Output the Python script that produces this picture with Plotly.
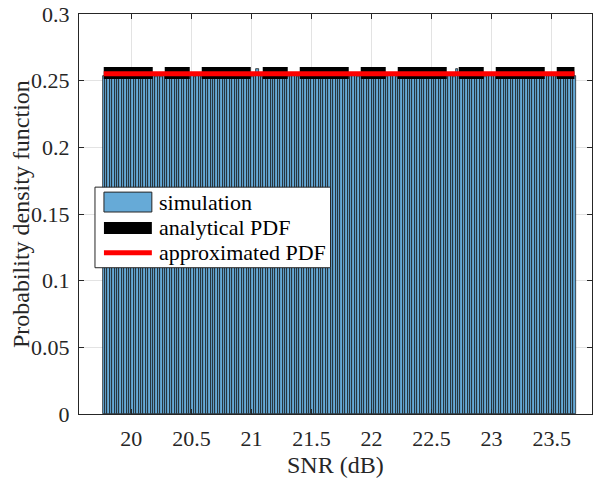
import plotly.graph_objects as go

# Histogram of simulated SNR samples (pdf-normalised), 0.02 dB bins
bin_start = 19.76
bin_width = 0.02
sim_pdf = [
    0.2537, 0.2531, 0.2540, 0.2528, 0.2535, 0.2542, 0.2530, 0.2536, 0.2533, 0.2539,
    0.2529, 0.2538, 0.2534, 0.2541, 0.2532, 0.2527, 0.2536, 0.2539, 0.2530, 0.2535,
    0.2543, 0.2533, 0.2529, 0.2537, 0.2531, 0.2540, 0.2534, 0.2528, 0.2538, 0.2532,
    0.2536, 0.2541, 0.2530, 0.2535, 0.2539, 0.2527, 0.2533, 0.2540, 0.2531, 0.2537,
    0.2534, 0.2529, 0.2542, 0.2536, 0.2530, 0.2538, 0.2533, 0.2528, 0.2539, 0.2535,
    0.2531, 0.2537, 0.2540, 0.2529, 0.2534, 0.2541, 0.2532, 0.2536, 0.2538, 0.2530,
    0.2535, 0.2539, 0.2528, 0.2533, 0.2589, 0.2537, 0.2531, 0.2540, 0.2534, 0.2529,
    0.2538, 0.2532, 0.2536, 0.2541, 0.2530, 0.2535, 0.2539, 0.2527, 0.2533, 0.2537,
    0.2540, 0.2531, 0.2534, 0.2538, 0.2529, 0.2536, 0.2542, 0.2530, 0.2535, 0.2533,
    0.2539, 0.2528, 0.2537, 0.2532, 0.2540, 0.2534, 0.2529, 0.2538, 0.2536, 0.2531,
    0.2535, 0.2541, 0.2530, 0.2537, 0.2533, 0.2539, 0.2528, 0.2534, 0.2540, 0.2532,
    0.2536, 0.2529, 0.2538, 0.2535, 0.2531, 0.2542, 0.2533, 0.2537, 0.2530, 0.2539,
    0.2534, 0.2540, 0.2527, 0.2536, 0.2532, 0.2538, 0.2535, 0.2529, 0.2541, 0.2533,
    0.2537, 0.2531, 0.2539, 0.2534, 0.2528, 0.2536, 0.2540, 0.2530, 0.2535, 0.2538,
    0.2532, 0.2537, 0.2529, 0.2541, 0.2534, 0.2536, 0.2531, 0.2588, 0.2533, 0.2539,
    0.2530, 0.2535, 0.2538, 0.2528, 0.2536, 0.2540, 0.2532, 0.2534, 0.2537, 0.2531,
    0.2539, 0.2533, 0.2536, 0.2542, 0.2529, 0.2535, 0.2538, 0.2530, 0.2534, 0.2540,
    0.2532, 0.2537, 0.2531, 0.2536, 0.2539, 0.2528, 0.2535, 0.2541, 0.2533, 0.2537,
    0.2530, 0.2538, 0.2534, 0.2529, 0.2540, 0.2536, 0.2532, 0.2539, 0.2535, 0.2531,
    0.2537, 0.2533, 0.2540, 0.2528, 0.2536, 0.2534, 0.2538,
]
bin_centers = [bin_start + bin_width * (k + 0.5) for k in range(len(sim_pdf))]

# Analytical and approximated pdf evaluated over the SNR span
pdf_x = [19.77, 23.69]
analytical_pdf = [0.2558, 0.2558]
approx_pdf = [0.2552, 0.2552]

x_ticks = [20, 20.5, 21, 21.5, 22, 22.5, 23, 23.5]
y_ticks = [0, 0.05, 0.1, 0.15, 0.2, 0.25, 0.3]

SIM_FILL = "#66AAD7"
FONT = "Liberation Serif"
AX_COL = "#262626"
FS = 22
FS_LABEL = 24

fig = go.Figure()
fig.add_trace(go.Bar(
    x=bin_centers, y=sim_pdf, width=bin_width,
    marker=dict(color=SIM_FILL, line=dict(color="#0d0d0d", width=0.7)),
    name="simulation", showlegend=False,
))
fig.add_trace(go.Scatter(
    x=pdf_x, y=analytical_pdf, mode="lines",
    line=dict(color="black", width=12, dash="49px,12px,25px,12px"),
    name="analytical PDF", showlegend=False,
))
fig.add_trace(go.Scatter(
    x=pdf_x, y=approx_pdf, mode="lines",
    line=dict(color="#FF0000", width=5),
    name="approximated PDF", showlegend=False,
))

# Plot area geometry (pixels) used to place the legend box
L, R, T, B = 79, 593, 12, 414
W, H = 595, 481


def px(x):
    return (x - L) / (R - L)


def py(y):
    return (B - y) / (B - T)


shapes = [
    dict(type="rect", xref="paper", yref="paper", x0=px(95), x1=px(331), y0=py(267), y1=py(186),
         fillcolor="white", line=dict(color=AX_COL, width=1), layer="above"),
    dict(type="rect", xref="paper", yref="paper", x0=px(104), x1=px(152), y0=py(211), y1=py(191),
         fillcolor=SIM_FILL, line=dict(color=AX_COL, width=1), layer="above"),
    dict(type="line", xref="paper", yref="paper", x0=px(104), x1=px(152), y0=py(227), y1=py(227),
         line=dict(color="black", width=12), layer="above"),
    dict(type="line", xref="paper", yref="paper", x0=px(104), x1=px(152), y0=py(252), y1=py(252),
         line=dict(color="#FF0000", width=5), layer="above"),
]

legend_labels = ["simulation", "analytical PDF", "approximated PDF"]
legend_rows = [201, 227, 252]
annotations = [
    dict(text=t, xref="paper", yref="paper", x=px(157), y=py(yy), xanchor="left", yanchor="middle",
         showarrow=False, font=dict(family=FONT, size=FS, color="black"))
    for t, yy in zip(legend_labels, legend_rows)
]
annotations.append(dict(text="SNR (dB)", xref="paper", yref="paper", x=0.5, y=py(465),
                        xanchor="center", yanchor="middle", showarrow=False,
                        font=dict(family=FONT, size=FS_LABEL, color=AX_COL)))
annotations.append(dict(text="Probability density function", xref="paper", yref="paper",
                        x=px(21), y=0.5, xanchor="center", yanchor="middle", textangle=-90,
                        showarrow=False, font=dict(family=FONT, size=FS_LABEL, color=AX_COL)))

axis_common = dict(
    showline=True, linecolor=AX_COL, linewidth=1, mirror="ticks",
    ticks="inside", ticklen=5, tickcolor=AX_COL,
    showgrid=True, gridcolor="#e3e3e3", gridwidth=1, zeroline=False,
    tickfont=dict(family=FONT, size=FS, color=AX_COL),
    ticklabeloverflow="allow",
)

fig.update_layout(
    width=W, height=H,
    margin=dict(l=L, r=W - R, t=T, b=H - B),
    paper_bgcolor="white", plot_bgcolor="white",
    bargap=0,
    xaxis=dict(range=[19.564, 23.836], tickvals=x_ticks, ticklabelstandoff=5, **axis_common),
    yaxis=dict(range=[0, 0.3], tickvals=y_ticks, ticklabelstandoff=4, **axis_common),
    shapes=shapes, annotations=annotations,
    showlegend=False,
)

fig.write_html("out.html")
